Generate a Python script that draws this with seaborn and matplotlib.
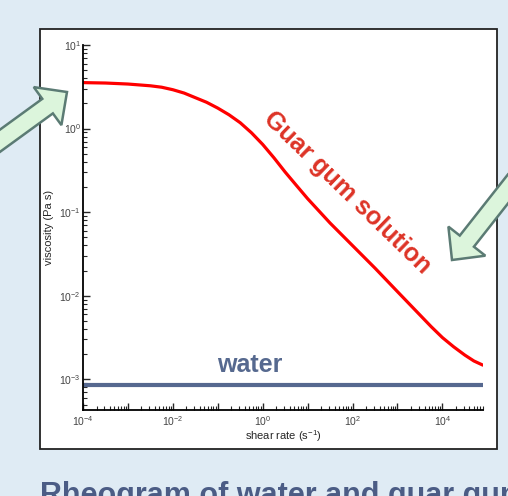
import numpy as np
import pandas as pd
import matplotlib
matplotlib.use("Agg")
import matplotlib.pyplot as plt
import matplotlib.patches as mpatches
from matplotlib.ticker import LogLocator, NullFormatter
import seaborn as sns

# === 1. Data ===
shear_rate = [1e-4, 3.16e-4, 1e-3, 3.16e-3, 5.62e-3, 1e-2, 1.78e-2, 3.16e-2, 5.62e-2,
              0.1, 0.178, 0.316, 0.562, 1.0, 1.78, 3.16, 5.62, 10.0, 31.6, 100.0,
              316.0, 1000.0, 3160.0, 5620.0, 1e4, 1.78e4, 3.16e4, 5.01e4, 7.94e4]
guar_viscosity = [3.548, 3.508, 3.412, 3.251, 3.126, 2.917, 2.661, 2.344, 2.065,
                  1.758, 1.462, 1.175, 0.891, 0.646, 0.447, 0.302, 0.209, 0.145, 0.0741, 0.0398,
                  0.0214, 0.0112, 0.00589, 0.00427, 0.00316, 0.00245, 0.00195, 0.00166, 0.00148]
water_rate = [1e-4, 7.94e4]
water_viscosity = [8.5e-4, 8.5e-4]

x_ticks = [1e-4, 1e-3, 1e-2, 1e-1, 1e0, 1e1, 1e2, 1e3, 1e4]
x_ticklabels = ["$10^{-4}$", "", "$10^{-2}$", "", "$10^{0}$", "", "$10^{2}$", "", "$10^{4}$"]
y_ticks = [1e-3, 1e-2, 1e-1, 1e0, 1e1]
y_ticklabels = ["$10^{-3}$", "$10^{-2}$", "$10^{-1}$", "$10^{0}$", "$10^{1}$"]

guar = pd.DataFrame({"shear_rate": shear_rate, "viscosity": guar_viscosity})
water = pd.DataFrame({"shear_rate": water_rate, "viscosity": water_viscosity})

# === 2. Style ===
sns.set_style("ticks")
plt.rcParams["font.family"] = ["Liberation Sans", "DejaVu Sans"]
plt.rcParams["mathtext.fontset"] = "custom"
plt.rcParams["mathtext.rm"] = "Liberation Sans"
plt.rcParams["mathtext.it"] = "Liberation Sans:italic"
plt.rcParams["axes.unicode_minus"] = False

BG = "#dfebf4"
fig = plt.figure(figsize=(5.08, 4.96), dpi=100, facecolor=BG)

# white panel behind the plot
bg = fig.add_axes([0, 0, 1, 1], zorder=-1)
bg.set_xlim(0, 508)
bg.set_ylim(496, 0)
bg.axis("off")
bg.add_patch(mpatches.Rectangle((40, 29), 457, 420, facecolor="white",
                                edgecolor="#222222", linewidth=1.3))

# === 3. Main plot ===
ax = fig.add_axes([83 / 508, 86 / 496, 400 / 508, 365 / 496], zorder=1)
ax.set_facecolor("none")
sns.lineplot(data=guar, x="shear_rate", y="viscosity", color="#ff0000",
             linewidth=2.3, estimator=None, sort=False, ax=ax)
sns.lineplot(data=water, x="shear_rate", y="viscosity", color="#56688f",
             linewidth=3.0, estimator=None, sort=False, ax=ax)
ax.set_xscale("log")
ax.set_yscale("log")
ax.set_xlim(1e-4, 8e4)
ax.set_ylim(4.3e-4, 10)

sns.despine(ax=ax)
for s in ["left", "bottom"]:
    ax.spines[s].set_linewidth(1.3)
    ax.spines[s].set_color("black")

ax.set_xticks(x_ticks)
ax.set_xticklabels(x_ticklabels)
ax.set_yticks(y_ticks)
ax.set_yticklabels(y_ticklabels)
ax.xaxis.set_minor_locator(LogLocator(base=10, subs=np.arange(2, 10), numticks=20))
ax.yaxis.set_minor_locator(LogLocator(base=10, subs=np.arange(2, 10), numticks=20))
ax.xaxis.set_minor_formatter(NullFormatter())
ax.yaxis.set_minor_formatter(NullFormatter())
ax.tick_params(which="major", direction="in", length=5, width=1, labelsize=7.5,
               labelcolor="#444444")
ax.tick_params(which="minor", direction="in", length=3, width=0.8)
ax.tick_params(axis="y", pad=1.5)
ax.tick_params(axis="x", pad=3)

ax.set_xlabel("shear rate (s$^{-1}$)", fontsize=8, labelpad=0)
ax.set_ylabel("viscosity (Pa s)", fontsize=8, labelpad=4)

# === 4. Annotations ===
ov = fig.add_axes([0, 0, 1, 1], zorder=5)
ov.set_xlim(0, 508)
ov.set_ylim(496, 0)
ov.axis("off")

ov.text(347, 193, "Guar gum solution", color="#dd3326", fontsize=18,
        fontweight="bold", rotation=-44, rotation_mode="anchor",
        ha="center", va="center")
ov.text(250, 365, "water", color="#56698f", fontsize=18, fontweight="bold",
        ha="center", va="center")

arrow_kw = dict(width=18, head_width=47, head_length=24, length_includes_head=True,
                facecolor="#dcf5dc", edgecolor="#5b7b74", linewidth=1.8)
ov.add_patch(mpatches.FancyArrow(-10, 148, 77, -56, **arrow_kw))
ov.add_patch(mpatches.FancyArrow(515, 180, -63, 80, **arrow_kw))

# caption is cut by the lower edge, as in the reference
fig.text(40 / 508, 1 - 481 / 496, "Rheogram of water and guar gum solution",
         color="#4b5c85", fontsize=22, fontweight="bold", ha="left", va="top")

fig.savefig("out.png", dpi=100, facecolor=BG)
